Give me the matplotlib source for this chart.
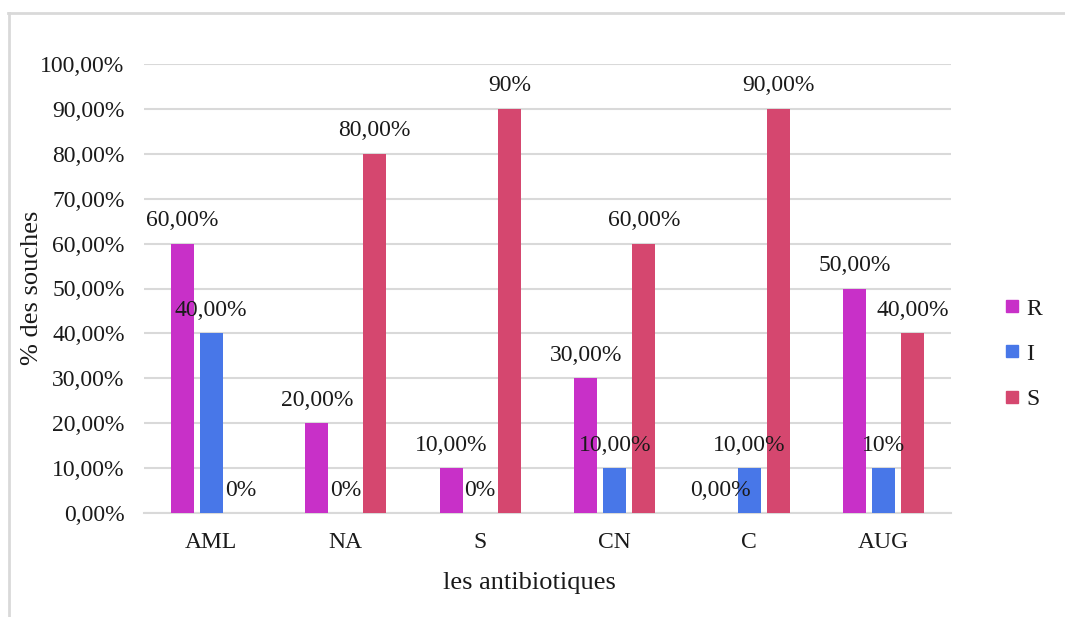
import numpy as np
import matplotlib.pyplot as plt
from matplotlib.lines import Line2D

antibiotiques = ['AML', 'NA', 'S', 'CN', 'C', 'AUG']
series = ['R', 'I', 'S']
R = [0.60, 0.20, 0.10, 0.30, 0.00, 0.50]
I = [0.40, 0.00, 0.00, 0.10, 0.10, 0.10]
S = [0.00, 0.80, 0.90, 0.60, 0.90, 0.40]
labels_R = ['60,00%', '20,00%', '10,00%', '30,00%', '0,00%', '50,00%']
labels_I = ['40,00%', '0%', '0%', '10,00%', '10,00%', '10%']
labels_S = ['0%', '80,00%', '90%', '60,00%', '90,00%', '40,00%']
colors = ['#C830C8', '#4877E8', '#D5476F']
yticks = np.arange(0, 1.01, 0.1)
ytick_labels = ['0,00%', '10,00%', '20,00%', '30,00%', '40,00%', '50,00%',
                '60,00%', '70,00%', '80,00%', '90,00%', '100,00%']

plt.rcParams['font.family'] = ['Liberation Serif', 'DejaVu Serif']
txt = '#1a1a1a'

fig = plt.figure(figsize=(10.65, 6.17), dpi=100)
ax = fig.add_axes([144 / 1065, 1 - 513 / 617, 807 / 1065, 449 / 617])

x = np.arange(len(antibiotiques))
width = 0.171
offset = 0.216
for k, (vals, labs) in enumerate(zip([R, I, S], [labels_R, labels_I, labels_S])):
    pos = x + (k - 1) * offset
    ax.bar(pos, vals, width, color=colors[k], zorder=3)
    for p, v, lab in zip(pos, vals, labs):
        ax.annotate(lab, (p, v), xytext=(0, 16.5), textcoords='offset points',
                    ha='center', va='center', fontsize=17, color=txt, zorder=4)

ax.set_xlim(-0.5, len(antibiotiques) - 0.5)
ax.set_ylim(0, 1.0)
ax.set_yticks(yticks)
ax.set_yticklabels(ytick_labels)
ax.set_xticks(x)
ax.set_xticklabels(antibiotiques)
ax.grid(axis='y', color='#D9D9D9', linewidth=1.5, zorder=0)
for s in ['top', 'right', 'left']:
    ax.spines[s].set_visible(False)
ax.spines['bottom'].set_color('#D9D9D9')
ax.spines['bottom'].set_linewidth(1.5)
ax.tick_params(axis='both', length=0, labelsize=17, colors=txt)
ax.tick_params(axis='y', pad=14)
ax.tick_params(axis='x', pad=14)
ax.set_xlabel('les antibiotiques', fontsize=19, color=txt)
ax.xaxis.set_label_coords((529 - 144) / 807, -(572 - 513) / 449)
ax.set_ylabel('% des souches', fontsize=19, color=txt)
ax.yaxis.set_label_coords(-(144 - 43) / 807, (513 - 288) / 449)

handles = [Line2D([], [], marker='s', linestyle='none', markersize=8,
                  markerfacecolor=c, markeredgecolor=c) for c in colors]
fig.legend(handles, series, loc='center left', bbox_to_anchor=(984 / 1065, 1 - 354 / 617),
           frameon=False, fontsize=17, handlelength=0.6, handletextpad=0.3,
           labelspacing=1.0, labelcolor=txt)

fig.add_artist(Line2D([8 / 1065, 1], [1 - 13 / 617, 1 - 13 / 617], color='#D9D9D9', linewidth=2))
fig.add_artist(Line2D([9 / 1065, 9 / 1065], [0, 1 - 13 / 617], color='#D9D9D9', linewidth=2))

fig.savefig('out.png', dpi=100)
